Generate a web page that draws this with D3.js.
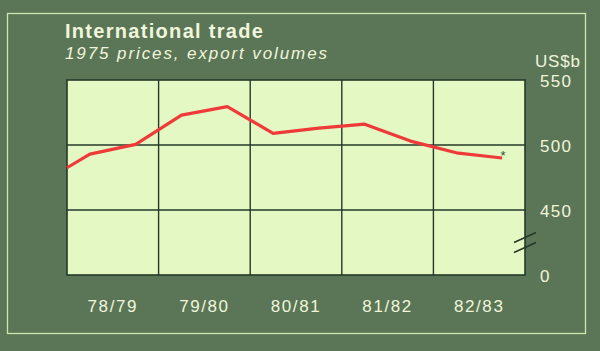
<!DOCTYPE html>
<html><head><meta charset="utf-8">
<script src="https://cdn.jsdelivr.net/npm/d3@7"></script>
<style>html,body{margin:0;padding:0;background:#5b7656;}svg{display:block;}</style>
</head><body>
<script>
// ---- data ----
const categories = ["78/79", "79/80", "80/81", "81/82", "82/83"];
const periods = [0, 0.25, 0.75, 1.25, 1.75, 2.25, 2.75, 3.25, 3.75, 4.25, 4.75];
const values  = [482.5, 493, 500.5, 523, 529.5, 509, 513, 516, 503, 494, 490];
const yTickValues = [400, 450, 500, 550];
const yTickLabels = ["0", "450", "500", "550"];
const title = "International trade";
const subtitle = "1975 prices, export volumes";
const unit = "US$b";

const W = 600, H = 351;
const bg = "#5b7656", fill = "#e3f8c2", grid = "#26392a", txt = "#f0f5dc", red = "#ef3a3a";
const svg = d3.select("body").append("svg").attr("width", W).attr("height", H);
svg.append("rect").attr("width", W).attr("height", H).attr("fill", bg);
svg.append("rect").attr("x", 7.5).attr("y", 13.5).attr("width", 578).attr("height", 320)
  .attr("fill", "none").attr("stroke", "#cbe6b4").attr("stroke-width", 1.3);

const L = 67, R = 525, T = 80, B = 275;
const x = d3.scaleLinear().domain([0, categories.length]).range([L, R]);
const xb = d3.scaleBand().domain(categories).range([L, R]);
const y = d3.scaleLinear().domain([400, 550]).range([B, T]);

svg.append("rect").attr("x", L).attr("y", T).attr("width", R - L).attr("height", B - T).attr("fill", fill);

const g = svg.append("g");
// vertical grid
g.selectAll(".vg").data(d3.range(1, categories.length)).join("line")
  .attr("x1", d => x(d)).attr("x2", d => x(d)).attr("y1", T).attr("y2", B)
  .attr("stroke", grid).attr("stroke-width", 1.4);
// horizontal grid
g.selectAll(".hg").data(yTickValues.slice(1, -1)).join("line")
  .attr("x1", L).attr("x2", R).attr("y1", d => y(d)).attr("y2", d => y(d))
  .attr("stroke", grid).attr("stroke-width", 1.4);
svg.append("rect").attr("x", L).attr("y", T).attr("width", R - L).attr("height", B - T)
  .attr("fill", "none").attr("stroke", grid).attr("stroke-width", 1.6);

// line
const line = d3.line().x((d, i) => x(periods[i])).y(d => y(d));
svg.append("path").datum(values).attr("d", line).attr("fill", "none")
  .attr("stroke", red).attr("stroke-width", 3.2).attr("stroke-linejoin", "round");
// asterisk
svg.append("text").attr("x", x(periods[periods.length - 1]) + 1).attr("y", y(values[values.length - 1]) + 2)
  .attr("text-anchor", "middle").attr("font-family", "Liberation Sans, Arial, sans-serif")
  .attr("font-size", 13).attr("fill", "#3a4a3a").text("*");

// axis break
const by = y(425);
[0, 10].forEach(dy => {
  svg.append("line").attr("x1", R - 11).attr("y1", by + dy).attr("x2", R + 11).attr("y2", by + dy - 10)
    .attr("stroke", grid).attr("stroke-width", 1.6);
});

// y axis labels
const yAxis = d3.axisRight(y).tickValues(yTickValues).tickSize(0).tickPadding(0)
  .tickFormat((d, i) => yTickLabels[i]);
const ya = svg.append("g").attr("transform", `translate(540,0)`).call(yAxis);
ya.select(".domain").remove();
ya.selectAll("text").attr("fill", txt).attr("font-family", "Liberation Sans, Arial, sans-serif")
  .attr("font-size", 17).attr("letter-spacing", 1.3).attr("dy", "0.36em");
svg.append("text").attr("x", 535).attr("y", 67).attr("fill", txt)
  .attr("font-family", "Liberation Sans, Arial, sans-serif").attr("font-size", 17).attr("letter-spacing", 0.8).text(unit);

// x axis labels
const xAxis = d3.axisBottom(xb).tickSize(0).tickPadding(0);
const xa = svg.append("g").attr("transform", `translate(0,${B})`).call(xAxis);
xa.select(".domain").remove();
xa.selectAll("text").attr("fill", txt).attr("font-family", "Liberation Sans, Arial, sans-serif")
  .attr("font-size", 17).attr("letter-spacing", 1.6).attr("dy", "0").attr("y", 37);

// titles
svg.append("text").attr("x", 65).attr("y", 38).attr("fill", txt)
  .attr("font-family", "Liberation Sans, Arial, sans-serif").attr("font-weight", "bold")
  .attr("font-size", 20).attr("letter-spacing", 1.3).text(title);
svg.append("text").attr("x", 65).attr("y", 59).attr("fill", txt)
  .attr("font-family", "Liberation Sans, Arial, sans-serif").attr("font-style", "italic")
  .attr("font-size", 17).attr("letter-spacing", 1.9).text(subtitle);
</script>
</body></html>
